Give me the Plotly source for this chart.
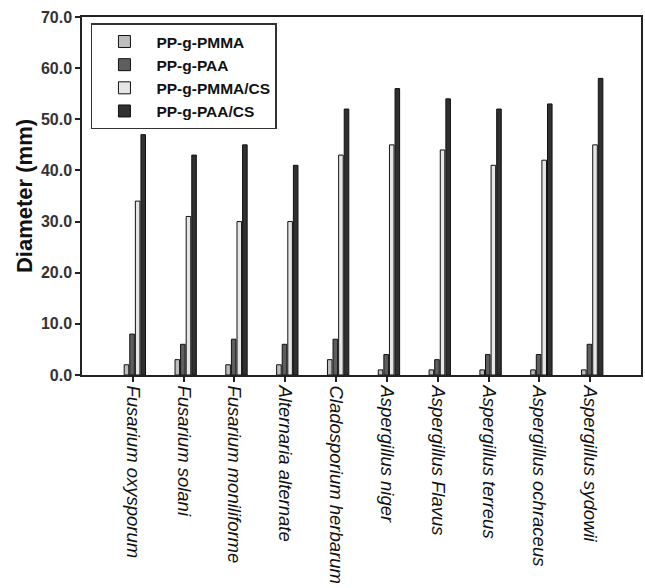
import plotly.graph_objects as go

categories = ["Fusarium oxysporum", "Fusarium solani", "Fusarium moniliforme",
              "Alternaria alternate", "Cladosporium herbarum", "Aspergillus niger",
              "Aspergillus Flavus", "Aspergillus terreus", "Aspergillus ochraceus",
              "Aspergillus sydowii"]
series_names = ["PP-g-PMMA", "PP-g-PAA", "PP-g-PMMA/CS", "PP-g-PAA/CS"]
pp_g_pmma = [2, 3, 2, 2, 3, 1, 1, 1, 1, 1]
pp_g_paa = [8, 6, 7, 6, 7, 4, 3, 4, 4, 6]
pp_g_pmma_cs = [34, 31, 30, 30, 43, 45, 44, 41, 42, 45]
pp_g_paa_cs = [47, 43, 45, 41, 52, 56, 54, 52, 53, 58]
y_ticks = [0, 10, 20, 30, 40, 50, 60, 70]

colors = ["#bdbdbd", "#5e5e5e", "#e6e6e6", "#303030"]
values = [pp_g_pmma, pp_g_paa, pp_g_pmma_cs, pp_g_paa_cs]

fig = go.Figure()
for i, (name, vals, col) in enumerate(zip(series_names, values, colors)):
    fig.add_trace(go.Bar(
        x=categories, y=vals, name=name,
        offset=-0.17 + i * 0.11, width=0.09,
        marker=dict(color=col, line=dict(color="#111111", width=1)),
    ))

fig.update_layout(
    width=645, height=588,
    margin=dict(l=82, r=2, t=17, b=213),
    paper_bgcolor="white", plot_bgcolor="white",
    barmode="overlay",
    font=dict(family="Arial, Liberation Sans, sans-serif", color="#222222"),
    legend=dict(
        x=0.016, y=0.982, xanchor="left", yanchor="top",
        bgcolor="white", bordercolor="#333333", borderwidth=1.5,
        font=dict(size=15.5, color="#111111", family="Arial, Liberation Sans, sans-serif", weight="bold"),
        tracegroupgap=0, itemwidth=54,
    ),
    showlegend=True,
)
fig.update_yaxes(
    range=[0, 70], tickvals=y_ticks, ticktext=[f"{v:.1f}" for v in y_ticks],
    ticks="outside", ticklen=5, tickwidth=1.5, tickcolor="#222222",
    tickfont=dict(size=16, color="#333333", weight="bold"),
    showline=True, linecolor="#222222", linewidth=1.5, mirror=True,
    showgrid=False, zeroline=False,
    title=dict(text="Diameter (mm)", font=dict(size=22, color="#111111", weight="bold"), standoff=2),
)
fig.update_xaxes(
    range=[-1, 10],
    ticks="outside", ticklen=5, tickwidth=1.5, tickcolor="#222222",
    tickangle=90,
    tickfont=dict(size=18.5, color="#111111", style="italic"),
    showline=True, linecolor="#222222", linewidth=1.5, mirror=True,
    showgrid=False,
)

fig.write_html("out.html")
